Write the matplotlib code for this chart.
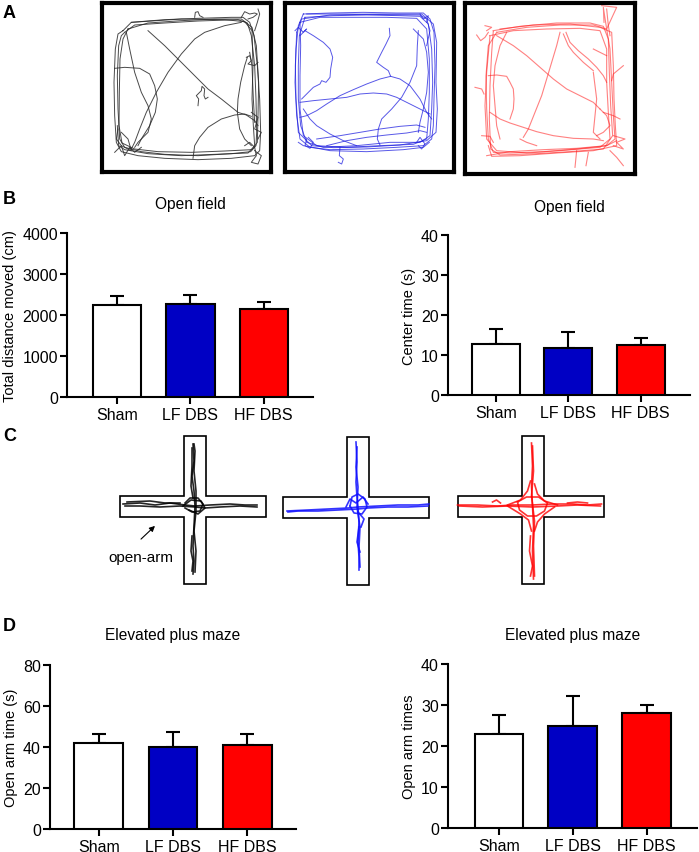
import numpy as np
import matplotlib.pyplot as plt
from matplotlib.patches import Polygon

plt.rcParams['font.family'] = ['Liberation Sans', 'DejaVu Sans']

W, H = 699, 853

groups = ['Sham', 'LF DBS', 'HF DBS']
bar_colors = ['white', '#0000c4', '#ff0000']

distance_mean = [2240, 2260, 2155]
distance_sem = [215, 220, 165]
center_mean = [12.8, 11.8, 12.4]
center_sem = [3.8, 3.9, 1.9]
open_time_mean = [42.0, 39.8, 41.2]
open_time_sem = [4.4, 7.7, 4.9]
open_entries_mean = [23.0, 24.9, 28.0]
open_entries_sem = [4.6, 7.3, 1.9]

# open field tracks, arena pixel coords
black_paths = [
    [(75,95),(100,70),(200,62),(300,58),(400,55),(435,55),(455,70),(468,110),(478,200),(485,300),(488,400),(485,455),(470,470),(400,478),(300,482),(200,478),(120,470),(70,458),(55,430),(50,350),(48,250),(52,150),(60,105),(75,95)],
    [(80,100),(110,78),(200,72),(300,66),(420,62),(448,72),(460,110),(470,200),(474,300),(476,400),(474,440),(458,458),(400,464),(300,470),(200,466),(130,458),(80,445),(65,420),(60,330),(58,230),(62,140),(70,110),(80,100)],
    [(90,90),(150,72),(250,65),(350,60),(430,60),(462,85),(475,140),(482,250),(480,350),(478,430),(462,452),(380,456),(280,460),(180,458),(110,450),(72,432),(63,380),(64,280),(66,180),(75,120),(90,90)],
    [(100,70),(250,60),(380,62),(440,68),(462,95),(465,200),(462,300),(466,380),(470,440),(450,462),(350,466),(250,470),(150,464),(80,452),(62,440),(58,380)],
    [(150,95),(200,140),(240,180),(290,230),(330,270),(370,300),(420,340),(445,348),(470,365),(480,380)],
    [(85,100),(95,150),(110,220),(130,280),(150,320),(160,360),(150,400),(120,430),(110,445)],
    [(430,70),(380,80),(320,100),(290,120),(250,165),(210,220),(175,280),(145,340),(125,390),(110,430),(100,450)],
    [(50,208),(80,205),(125,208),(155,225),(170,260),(178,300),(172,340),(155,380),(130,420),(120,440)],
    [(285,478),(290,440),(305,415),(330,385),(370,360),(410,348),(440,345),(460,352)],
    [(448,175),(440,200),(428,250),(420,300),(418,340),(425,390),(440,420),(460,440)],
    [(455,160),(462,200),(466,300),(470,370)],
    [(300,320),(302,300),(295,290),(310,275),(312,262),(320,270),(318,290),(322,300),(330,295)],
    [(290,55),(292,40),(300,38),(305,50),(315,55)],
    [(430,55),(440,38),(455,45),(470,42),(478,45),(465,55),(450,60)],
    [(480,30),(485,45),(478,70),(470,95)],
    [(50,460),(70,440),(80,470),(95,445),(110,460),(130,445)],
    [(60,390),(55,420),(70,440),(100,455),(90,420),(70,400)],
    [(440,440),(455,430),(470,445),(475,470),(460,490),(480,495),(490,470),(470,455)],
    [(445,175),(455,170),(460,185),(450,195),(470,200),(480,190)],
    [(460,340),(480,355),(470,390),(490,400),(480,420)],
]

blue_paths = [
    [(70,45),(150,42),(250,40),(350,42),(430,42),(450,60),(462,100),(465,200),(462,300),(460,380),(455,420),(430,440),(350,445),(250,450),(150,452),(90,445),(60,420),(50,350),(45,250),(48,150),(55,80),(70,45)],
    [(75,55),(160,50),(260,48),(360,50),(420,52),(445,75),(455,150),(458,250),(455,330),(450,410),(420,430),(330,430),(230,440),(130,445),(80,430),(62,380),(55,300),(55,200),(58,110),(75,55)],
    [(60,70),(120,55),(220,55),(320,55),(410,58),(440,90),(448,180),(448,280),(445,360),(440,420),(400,436),(300,440),(200,445),(110,440),(70,410),(60,330),(60,230),(62,140),(60,70)],
    [(50,100),(65,60),(150,48),(300,45),(425,45),(460,75),(470,130),(468,250),(472,330),(468,400),(440,425),(360,438),(260,444),(160,446),(95,440),(70,415),(55,400),(48,300),(46,200),(50,100)],
    [(80,45),(200,45),(330,47),(420,48),(440,60),(450,95),(440,140)],
    [(55,430),(70,440),(150,455),(260,458),(370,452),(430,445),(448,430)],
    [(75,95),(100,110),(130,130),(150,150),(158,175),(152,210),(150,235),(138,250),(125,245),(120,255),(100,265),(80,285),(65,300)],
    [(60,310),(100,305),(150,300),(200,295),(240,285),(280,282),(320,285),(350,295),(390,315),(420,330),(450,345)],
    [(328,88),(330,110),(318,135),(305,160),(290,190),(310,205),(325,215),(332,232),(360,240),(390,260),(420,300),(440,340),(455,360)],
    [(332,232),(300,240),(260,255),(220,272),(180,290),(140,315),(110,335),(80,350),(60,355)],
    [(415,95),(412,140),(410,200),(390,250),(365,295),(335,330),(305,360),(295,390),(292,420),(300,438)],
    [(400,90),(430,120),(440,160),(445,220),(440,280),(430,330),(420,370),(415,400)],
    [(70,330),(90,360),(110,380),(150,405),(190,425),(230,440)],
    [(140,440),(200,425),(260,415),(320,408),(380,402),(420,395),(440,400)],
    [(110,420),(180,410),(240,400),(300,390),(360,382),(410,378),(435,385)],
    [(180,445),(178,470),(190,480),(185,495),(175,490)],
    [(45,95),(55,85),(70,100),(80,90),(60,110)],
    [(80,420),(75,440),(90,448),(100,430),(85,415)],
    [(410,430),(420,415),(435,435),(425,450),(415,440)],
    [(420,45),(430,60),(445,50),(440,70)],
]

red_paths = [
    [(110,100),(200,85),(300,78),(400,78),(440,90),(450,150),(455,250),(460,350),(465,420),(440,440),(350,450),(250,458),(150,462),(100,460),(85,420),(80,330),(78,230),(85,140),(110,100)],
    [(100,95),(180,82),(290,72),(390,72),(430,82),(445,120),(448,220),(452,320),(458,410),(430,450),(330,458),(230,464),(120,468),(92,450),(88,360),(90,260),(95,160),(100,95)],
    [(90,110),(160,95),(260,90),(360,88),(420,95),(440,150),(440,250),(445,340),(450,420),(420,445),(300,455),(200,462),(110,455),(80,420),(75,320),(80,220),(90,110)],
    [(120,90),(220,78),(330,75),(420,85),(455,100),(460,200),(462,300),(466,380),(470,440),(400,455),(290,462),(180,470),(95,472),(85,440)],
    [(80,470),(150,458),(250,452),(350,448),(440,440),(470,425)],
    [(110,110),(160,140),(200,170),(240,205),(280,240),(320,270),(360,290),(400,310),(420,330)],
    [(300,100),(290,140),(275,190),(260,240),(245,290),(225,340),(205,390),(190,415)],
    [(318,100),(330,130),(355,155),(385,180),(410,205),(430,230),(440,250)],
    [(310,105),(325,140),(340,160),(370,190),(400,215)],
    [(85,230),(110,228),(140,232),(150,250),(160,270),(162,300),(160,330),(150,360)],
    [(90,340),(120,360),(150,372),(190,385),(230,398),(280,410),(340,418),(400,420),(430,425)],
    [(400,220),(405,260),(410,300),(405,350),(400,400),(420,420)],
    [(140,100),(120,140),(105,200),(100,260),(105,320),(110,380),(120,420)],
    [(420,330),(440,350),(450,380),(430,400),(410,410)],
    [(180,420),(200,430),(230,440)],
    [(425,20),(470,25),(440,90),(430,25),(432,70)],
    [(440,30),(445,80),(450,110)],
    [(490,200),(460,225),(455,245)],
    [(350,455),(345,505)],
    [(385,460),(378,500)],
    [(450,455),(470,475),(490,500)],
    [(460,410),(495,420),(470,430),(490,450),(460,440)],
    [(45,265),(65,270),(72,285)],
    [(50,108),(62,125),(75,115),(85,100)],
    [(75,80),(95,85),(80,95)],
    [(65,410),(90,412),(100,430)],
    [(400,150),(420,160),(440,170)],
    [(430,340),(460,350),(480,360)],
]

# plus maze tracks, offsets in px from maze centre
black_cross = [
    [(-72,-2),(-55,-3),(-40,-1),(-25,-3),(-10,-1),(0,0),(15,-1),(35,-2),(50,-1),(62,-1)],
    [(62,1),(45,0),(25,1),(10,2),(0,1),(-15,0),(-35,1),(-55,0),(-70,0)],
    [(-68,-4),(-45,-5),(-30,-3),(-15,-3)],
    [(-2,-62),(-1,-45),(-3,-30),(-1,-15),(0,0),(-1,20),(-2,40),(-1,55),(-2,68)],
    [(0,66),(1,45),(-1,25),(1,5),(1,-15),(-1,-35),(0,-55),(-1,-62)],
    [(-3,-58),(-3,-40),(-4,-20),(-2,-8)],
    [(-10,-3),(-5,-8),(3,-8),(8,-2),(5,5),(-3,6),(-10,2)],
    [(-12,0),(-4,-6),(6,-5),(10,2),(3,8),(-6,4)],
    [(-3,30),(-4,45),(-2,55),(-3,65)],
]
blue_cross = [
    [(-71,4),(-50,3),(-30,2),(-10,1),(0,0),(20,-1),(40,-2),(60,-2),(71,-3)],
    [(70,-1),(50,0),(30,0),(10,1),(0,2),(-20,3),(-40,4),(-60,4),(-70,5)],
    [(-2,-65),(-1,-45),(-2,-25),(-1,-10),(0,0),(1,15),(0,35),(1,50),(1,63)],
    [(2,60),(1,40),(2,20),(-1,0),(0,-20),(-2,-40),(-1,-60)],
    [(-8,-1),(-6,-10),(0,-13),(7,-8),(9,0),(4,7),(-4,6),(-8,-1)],
    [(-12,0),(-8,-8),(-2,-4),(5,-10),(10,-3)],
    [(0,5),(6,12),(3,20)],
    [(1,20),(-1,35),(2,45)],
]
red_cross = [
    [(-75,-1),(-55,-1),(-35,0),(-20,-1),(0,-1),(20,-2),(40,-2),(55,-1),(69,-2)],
    [(68,0),(45,-1),(25,0),(0,1),(-25,0),(-50,1),(-73,0)],
    [(-1,-63),(0,-40),(-1,-20),(0,0),(1,20),(0,45),(1,73)],
    [(2,70),(1,40),(2,15),(-1,-10),(1,-35),(0,-60)],
    [(-25,-1),(-12,-6),(-5,-15),(-2,-25)],
    [(-25,0),(-12,8),(-4,14),(-1,25)],
    [(25,-1),(12,-5),(5,-12),(2,-22)],
    [(22,1),(12,8),(5,16),(2,25)],
    [(-15,-4),(-6,-9),(6,-9),(15,-3),(12,5),(4,10),(-5,10),(-13,4),(-15,-4)],
    [(-2,30),(-3,45),(0,60),(-2,70)],
    [(-40,-4),(-36,-6),(-32,-3)],
    [(35,-3),(45,-4),(55,-3)],
]
maze_outline = [(-11,-70),(11,-70),(11,-10.5),(71,-10.5),(71,10.5),(11,10.5),(11,78),
                (-11,78),(-11,10.5),(-75,10.5),(-75,-10.5),(-11,-10.5)]


def px_rect(x0, y0, x1, y1):
    return [x0 / W, 1 - y1 / H, (x1 - x0) / W, (y1 - y0) / H]


fig = plt.figure(figsize=(W / 100, H / 100), dpi=100)

# ---- A: open field traces
arenas = [
    (98, 0, (11, 519), (11, 519), black_paths, '#2a2a2a', 0.7, 0.85),
    (280, 0, (14, 522), (11, 519), blue_paths, '#2020e0', 0.7, 0.75),
    (460, 0, (16, 524), (12, 525), red_paths, '#ff1a1a', 0.8, 0.55),
]
for ox, oy, xr, yr, paths, col, lw, al in arenas:
    ax = fig.add_axes(px_rect(ox + xr[0] / 3, oy + yr[0] / 3, ox + xr[1] / 3, oy + yr[1] / 3))
    for p in paths:
        xs, ys = zip(*p)
        ax.plot(xs, ys, color=col, lw=lw, alpha=al)
    ax.set_xlim(*xr)
    ax.set_ylim(yr[1], yr[0])
    ax.set_xticks([])
    ax.set_yticks([])
    for s in ax.spines.values():
        s.set_linewidth(3)

# ---- C: plus maze traces
axc = fig.add_axes(px_rect(100, 425, 640, 600))
axc.set_xlim(100, 640)
axc.set_ylim(600, 425)
axc.axis('off')
mazes = [((195, 507), black_cross, '#000000', 0.85),
         ((358, 508), blue_cross, '#1010ff', 0.85),
         ((532.5, 507), red_cross, '#ff0000', 0.8)]
for (cx, cy), tracks, col, al in mazes:
    axc.add_patch(Polygon([(cx + dx, cy + dy) for dx, dy in maze_outline], closed=True,
                          facecolor='white', edgecolor='black', lw=1.2))
    for t in tracks:
        axc.plot([cx + dx for dx, dy in t], [cy + dy for dx, dy in t], color=col, lw=1.2, alpha=al)
axc.annotate('', xy=(157, 525), xytext=(139, 542),
             arrowprops=dict(arrowstyle='-|>', color='black', lw=0.8, mutation_scale=8))
axc.text(108, 558, 'open-arm', fontsize=11, ha='left', va='center')


# ---- B / D bar charts
def bar_panel(rect, means, sems, ymax, step, ylabel, title, pad, xl):
    ax = fig.add_axes(rect)
    x = np.arange(len(groups))
    ax.bar(x, means, width=0.66, color=bar_colors, edgecolor='black', linewidth=1.5, zorder=3)
    ax.errorbar(x, means, yerr=[np.zeros(len(x)), sems], fmt='none', ecolor='black',
                elinewidth=1.5, capsize=5, capthick=1.5, zorder=2)
    ax.set_xlim(*xl)
    ax.set_ylim(0, ymax)
    ax.set_yticks(np.arange(0, ymax + 1, step))
    ax.set_xticks(x, groups)
    for s in ['top', 'right']:
        ax.spines[s].set_visible(False)
    for s in ['left', 'bottom']:
        ax.spines[s].set_linewidth(1.5)
    ax.tick_params(axis='both', width=1.5, length=5, labelsize=11.5, direction='out')
    ax.tick_params(axis='y', pad=1.5)
    ax.tick_params(axis='x', pad=2)
    ax.set_ylabel(ylabel, fontsize=10.5, labelpad=4)
    ax.set_title(title, fontsize=11.2, pad=pad)
    return ax


bar_panel(px_rect(67, 234, 313, 398), distance_mean, distance_sem, 4000, 1000,
          'Total distance moved (cm)', 'Open field', 18, (-0.68, 2.67))
bar_panel(px_rect(448, 236, 690, 396), center_mean, center_sem, 40, 10,
          'Center time (s)', 'Open field', 17, (-0.66, 2.68))
bar_panel(px_rect(50, 666, 296, 830), open_time_mean, open_time_sem, 80, 20,
          'Open arm time (s)', 'Elevated plus maze', 19, (-0.66, 2.66))
bar_panel(px_rect(448, 665, 697, 829), open_entries_mean, open_entries_sem, 40, 10,
          'Open arm times', 'Elevated plus maze', 18, (-0.69, 2.68))

for lab, y in [('A', 5), ('B', 191), ('C', 428), ('D', 618)]:
    fig.text(3 / W, 1 - y / H, lab, fontsize=13, fontweight='bold', ha='left', va='top')

fig.savefig('out.png', dpi=100)
